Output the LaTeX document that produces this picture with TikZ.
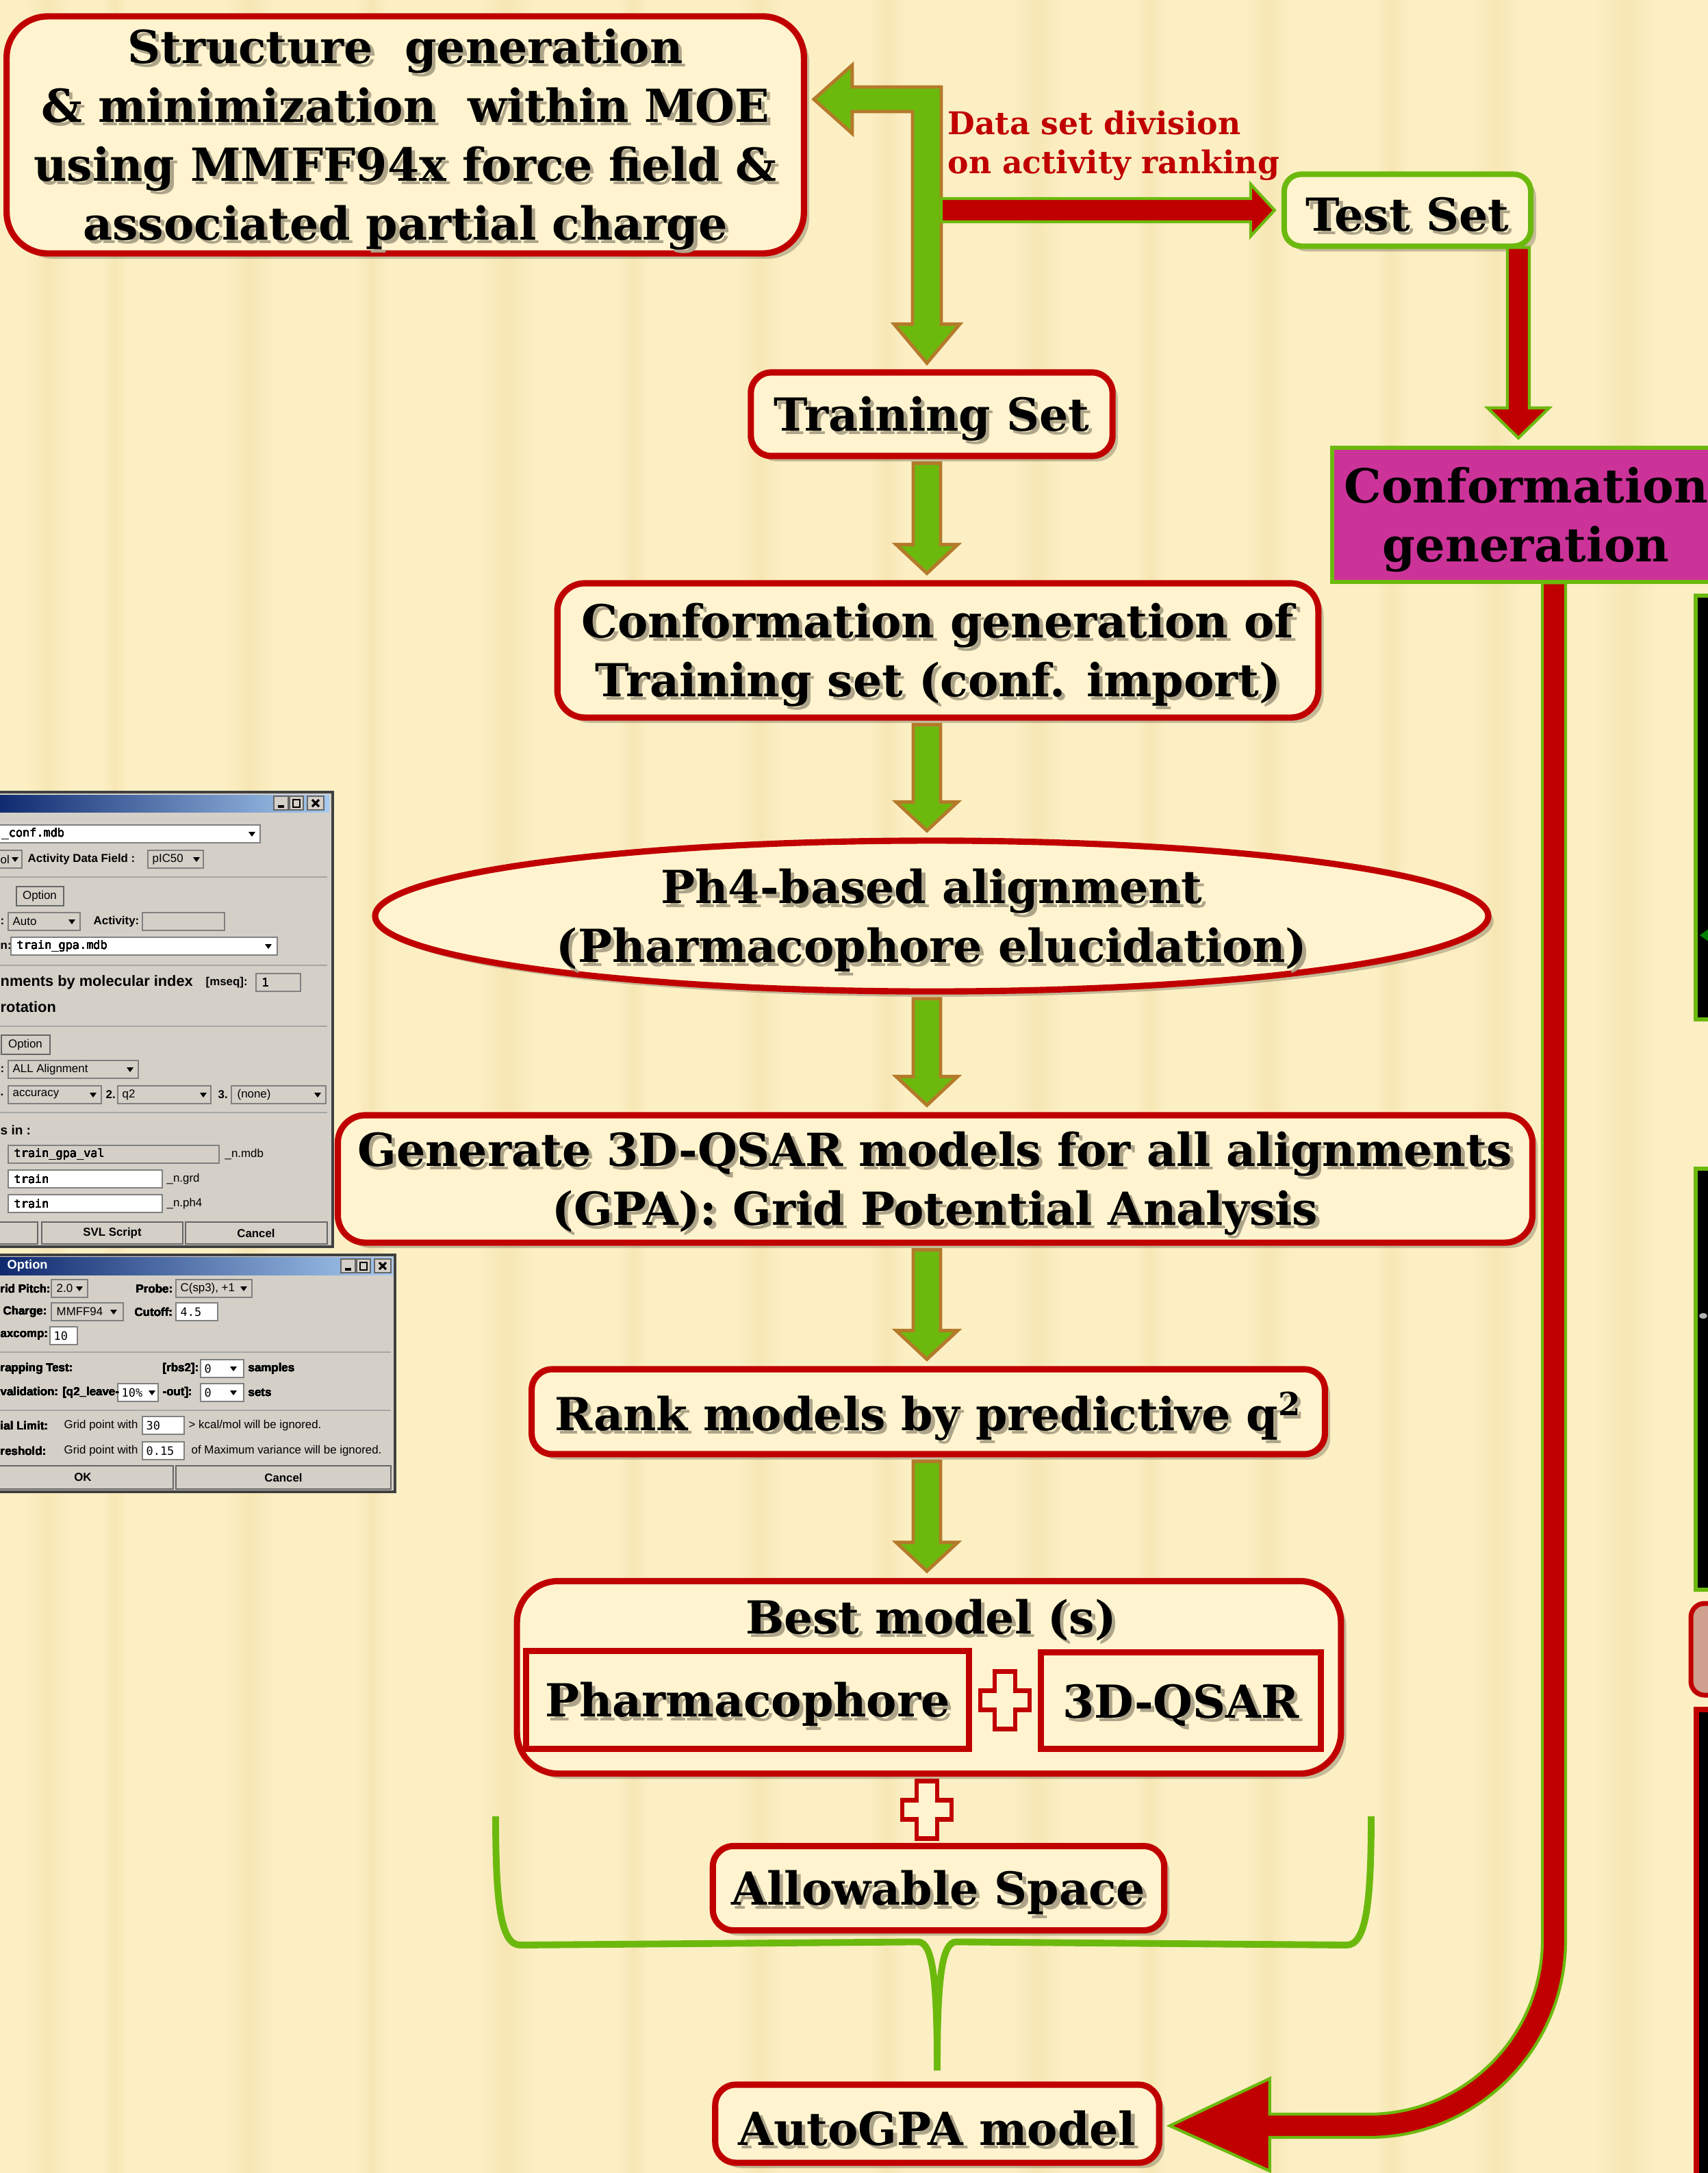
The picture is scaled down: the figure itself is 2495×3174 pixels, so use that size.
\documentclass[tikz,border=0pt]{standalone}
\usepackage{fontspec}
\setmainfont{DejaVu Serif}
\newfontfamily\uisans{Liberation Sans}
\newfontfamily\uimono{DejaVu Sans Mono}
\usetikzlibrary{calc,shapes.geometric,shadows}

\definecolor{bgcream}{HTML}{FCEFC4}
\definecolor{stripe}{HTML}{F0DDA2}
\definecolor{boxfill}{HTML}{FFF4CF}
\definecolor{boxred}{HTML}{C00000}
\definecolor{leaf}{HTML}{6CB90E}
\definecolor{rust}{HTML}{B47A2A}
\definecolor{orchid}{HTML}{CC3399}
\definecolor{txtshade}{HTML}{ADA48A}
\definecolor{uigray}{HTML}{D4D0C8}
\definecolor{uidark}{HTML}{404040}
\definecolor{titledark}{HTML}{0A246A}
\definecolor{titlelight}{HTML}{A6CAF0}
\definecolor{peach}{HTML}{CFA08E}

% text with a soft shadow, set a little low in its box
\newcommand{\sh}[1]{\leavevmode\raisebox{-2.6pt}[\height][\depth]{\rlap{\kern1.5pt\raisebox{-1.5pt}{\textcolor{txtshade}{#1}}}#1}}
\newcommand{\lowr}[1]{\leavevmode\raisebox{-2pt}[\height][\depth]{#1}}

\tikzset{
  stagebox/.style={draw=boxred, line width=2.6pt, fill=boxfill, rounded corners=0.35cm,
    align=center, inner sep=0pt, font=\fontsize{18.9}{24.5}\selectfont\bfseries,
    drop shadow={shadow xshift=2.2pt, shadow yshift=-2.2pt, opacity=0.22, fill=black}},
  plainbox/.style={draw=boxred, line width=2.6pt, inner sep=0pt,
    font=\fontsize{18.9}{24.5}\selectfont\bfseries},
  greenarrow/.style={fill=leaf, draw=rust, line width=1.4pt, line join=miter},
  redarrow/.style={fill=boxred, draw=leaf, line width=1.2pt, line join=miter},
  bracket/.style={draw=leaf, line width=2.8pt},
  plusmark/.style={fill=boxfill, draw=boxred, line width=1.8pt},
  uiwin/.style={fill=uigray, draw=uidark, line width=1pt},
  uifield/.style={draw=gray, line width=0.5pt},
  uibtn/.style={fill=uigray, draw=gray!80!black, line width=0.6pt},
  uisep/.style={draw=gray!70, line width=0.6pt},
  uitext/.style={inner sep=0pt, anchor=west, font=\uisans\fontsize{4.8}{5}\selectfont},
  uibold/.style={uitext, font=\uisans\bfseries\fontsize{4.8}{5}\selectfont},
  uibig/.style={uitext, font=\uisans\bfseries\fontsize{6.2}{6.5}\selectfont},
  uimono/.style={uitext, font=\uimono\fontsize{4.8}{5}\selectfont},
}

% fat green arrow down the spine
\newcommand{\greendown}[2]{%
  \filldraw[greenarrow] ($(spine |- #1.south)+(-20,6)$) -- ++(40,0)
    -- ($(spine |- #2.north)+(20,-52)$) -- ++(25,0)
    -- ($(spine |- #2.north)+(0,-10)$)
    -- ($(spine |- #2.north)+(-45,-52)$) -- ++(25,0) -- cycle;}
% red plus sign
\newcommand{\redplus}[1]{%
  \filldraw[plusmark] ($(#1)+(-15,-42)$) -- ++(30,0) -- ++(0,28) -- ++(21,0) -- ++(0,28)
    -- ++(-21,0) -- ++(0,28) -- ++(-30,0) -- ++(0,-28) -- ++(-21,0) -- ++(0,-28) -- ++(21,0) -- cycle;}
% dropdown triangle
\newcommand{\dd}[2]{\fill (#1-5,#2-3) -- (#1+5,#2-3) -- (#1,#2+4) -- cycle;}
% window buttons _ [] X
\newcommand{\winbtns}[2]{%
  \foreach \bx/\bw in {0/21,23/20,49/24}
    \draw[uibtn] (#1+\bx,#2) rectangle ++(\bw,20);
  \draw[line width=1.2pt] (#1+6,#2+15) -- ++(9,0);
  \draw[line width=0.8pt] (#1+28,#2+5) rectangle ++(10,11);
  \draw[line width=0.9pt] (#1+56,#2+5) -- ++(10,10) (#1+56,#2+15) -- ++(10,-10);}

\begin{document}
\begin{tikzpicture}[x=0.01cm, y=-0.01cm]
\useasboundingbox (0,0) rectangle (2495,3174);
\fill[bgcream] (0,0) rectangle (2495,3174);
% faint vertical stripes
\foreach \sx/\sw in {40/60, 150/35, 330/70, 520/45, 700/80, 905/40, 1080/60, 1270/50, 1480/70, 1660/40, 1820/65, 2010/45, 2150/70, 2330/90}
  \shade[left color=bgcream, right color=bgcream, middle color=stripe, opacity=0.45] (\sx,0) rectangle ++(\sw,3174);

% ---- cut-off panels on the right edge
\draw[line width=1.7pt, draw=leaf, fill=black] (2477,870) rectangle (2530,1489);
\fill[green!50!black] (2483,1366) -- (2497,1356) -- (2497,1376) -- cycle;
\draw[line width=1.7pt, draw=leaf, fill=black] (2477,1707) rectangle (2530,2322);
\fill[gray!60] (2488,1922) ellipse (6 and 4);
\draw[line width=2pt, draw=boxred, fill=peach, rounded corners=0.2cm] (2470,2342) rectangle (2550,2476);
\draw[line width=2.3pt, draw=boxred, fill=black] (2478,2497) rectangle (2530,3200);

% ---- left dialog 1
\draw[uiwin] (-20,1157) rectangle (486,1821);
\shade[left color=titledark, right color=titlelight] (-20,1161) rectangle (481,1186);
\winbtns{400}{1163}
\foreach \ya in {1281,1410,1499,1625}
  \draw[uisep] (-20,\ya) -- (478,\ya);
\foreach \xa/\ya/\xb/\yb in {-20/1205/380/1231, 16/1369/405/1395, 12/1709/237/1735, 12/1745/237/1771}
  \draw[uifield, fill=white] (\xa,\ya) rectangle (\xb,\yb);
\foreach \xa/\ya/\xb/\yb in {-20/1242/32/1268, 216/1242/297/1268, 12/1333/117/1359, 208/1333/328/1359, 374/1422/439/1448, 12/1549/202/1575, 12/1586/148/1612, 172/1586/308/1612, 338/1586/476/1612, 12/1673/320/1699}
  \draw[uifield, fill=uigray] (\xa,\ya) rectangle (\xb,\yb);
\foreach \xa/\ya/\xb/\yb in {24/1295/93/1323, 2/1512/73/1540, -20/1785/55/1817, 61/1785/267/1817, 271/1785/478/1817}
  \draw[uibtn] (\xa,\ya) rectangle (\xb,\yb);
\foreach \xd/\yd in {368/1218, 22/1255, 287/1255, 105/1346, 392/1382, 190/1562, 136/1599, 297/1599, 464/1599}
  \dd{\xd}{\yd}
\foreach \tx/\ty/\lbl [count=\i] in {2/1218/{\_conf.mdb}, 24/1382/{train\_gpa.mdb}, 20/1686/{train\_gpa\_val}, 20/1722/train, 20/1758/train, 382/1435/1}
  \node[uimono] (pam\i) at (\tx,\ty) {\lbl};
\foreach \tx/\ty/\lbl [count=\i] in {0/1255/ol, 222/1255/pIC50, 18/1346/Auto, 18/1562/{ALL Alignment}, 18/1599/accuracy, 178/1599/q2, 346/1599/{(none)}, 328/1686/{\_n.mdb}, 243/1722/{\_n.grd}, 243/1758/{\_n.ph4}}
  \node[uitext] (par\i) at (\tx,\ty) {\lbl};
\foreach \tx/\ty/\lbl [count=\i] in {40/1255/{Activity Data Field :}, 0/1346/:, 136/1346/{Activity:}, 0/1382/n:, 300/1435/{[mseq]:}, 0/1562/:, 0/1599/., 154/1599/2., 318/1599/3.}
  \node[uibold] (pab\i) at (\tx,\ty) {\lbl};
\node[uibig] (pabig1) at (0,1435) {nments by molecular index};
\node[uibig] (pabig2) at (0,1471) {rotation};
\node[uibold, font=\uisans\bfseries\fontsize{5.4}{6}\selectfont] (pabig3) at (0,1651) {s in :};
\node[uitext, anchor=center] (paopt1) at (58,1309) {Option};
\node[uitext, anchor=center] (paopt2) at (37,1526) {Option};
\node[uibold, anchor=center] (pasvl) at (164,1801) {SVL Script};
\node[uibold, anchor=center] (pacan) at (374,1801) {Cancel};

% ---- left dialog 2
\draw[uiwin] (-20,1833) rectangle (577,2179);
\shade[left color=titledark, right color=titlelight] (-20,1836) rectangle (574,1862);
\node[uibold, text=white, font=\uisans\bfseries\fontsize{5.2}{6}\selectfont] (pbtitle) at (10,1849) {Option};
\winbtns{498}{1839}
\foreach \ya in {1975,2060}
  \draw[uisep] (-20,\ya) -- (571,\ya);
\foreach \xa/\ya/\xb/\yb in {75/1869/128/1895, 257/1869/368/1895, 75/1903/180/1929}
  \draw[uifield, fill=uigray] (\xa,\ya) rectangle (\xb,\yb);
\foreach \xa/\ya/\xb/\yb in {257/1903/318/1929, 73/1938/113/1964, 293/1986/356/2012, 172/2021/231/2047, 293/2021/356/2047, 208/2069/269/2095, 208/2106/269/2132}
  \draw[uifield, fill=white] (\xa,\ya) rectangle (\xb,\yb);
\foreach \xa/\ya/\xb/\yb in {-20/2141/253/2175, 257/2141/571/2175}
  \draw[uibtn] (\xa,\ya) rectangle (\xb,\yb);
\foreach \xd/\yd in {116/1882, 356/1882, 166/1916, 341/1999, 222/2034, 341/2034}
  \dd{\xd}{\yd}
\foreach \tx/\ty/\lbl [count=\i] in {0/1882/{rid Pitch:}, 198/1882/{Probe:}, 4/1916/{Charge:}, 196/1916/{Cutoff:}, 0/1951/{axcomp:}, 0/1999/{rapping Test:}, 237/1999/{[rbs2]:}, 362/1999/samples, 0/2034/{validation: [q2\_leave-}, 237/2034/{-out]:}, 362/2034/sets, 0/2082/{ial Limit:}, 0/2119/{reshold:}}
  \node[uibold] (pbb\i) at (\tx,\ty) {\lbl};
\foreach \tx/\ty/\lbl [count=\i] in {82/1882/2.0, 263/1882/{C(sp3), +1}, 82/1916/MMFF94, 93/2082/{Grid point with}, 93/2119/{Grid point with}, 275/2082/{> kcal/mol will be ignored.}, 279/2119/{of Maximum variance will be ignored.}}
  \node[uitext] (pbr\i) at (\tx,\ty) {\lbl};
\foreach \tx/\ty/\lbl [count=\i] in {263/1916/4.5, 78/1951/10, 298/1999/0, 177/2034/{10\%}, 298/2034/0, 213/2082/30, 213/2119/0.15}
  \node[uimono] (pbm\i) at (\tx,\ty) {\lbl};
\node[uibold, anchor=center] (pbok) at (121,2158) {OK};
\node[uibold, anchor=center] (pbcan) at (414,2158) {Cancel};

% ---- flow chart
\coordinate (spine) at (1354,0);
\node[stagebox, minimum width=11.64cm, minimum height=3.46cm, rounded corners=0.6cm] (struct) at (592,197)
  {\sh{Structure\ \ generation}\\ \sh{\& minimization\ \ within MOE}\\ \sh{using MMFF94x force field \&}\\ \sh{associated partial charge}};
\node[stagebox, draw=leaf, line width=2.3pt, minimum width=3.6cm, minimum height=1.05cm, rounded corners=0.25cm] (test) at (2056,307) {\sh{Test Set}};
\node[stagebox, minimum width=5.28cm, minimum height=1.22cm, rounded corners=0.3cm] (train) at (1361,605) {\sh{Training Set}};
\node[plainbox, draw=leaf, line width=1.8pt, fill=orchid, minimum width=5.66cm, minimum height=1.96cm, align=center, anchor=west,
  font=\fontsize{19.5}{24.5}\selectfont\bfseries] (confgen) at (1943,752) {\lowr{Conformation}\\ \lowr{generation}};
\node[stagebox, minimum width=11.11cm, minimum height=1.96cm, rounded corners=0.4cm] (conftrain) at (1370,950)
  {\sh{Conformation generation of}\\ \sh{Training set (conf. import)}};
\node[stagebox, ellipse, minimum width=16.25cm, minimum height=2.14cm] (ph4) at (1361,1338)
  {\sh{Ph4-based alignment}\\ \sh{(Pharmacophore elucidation)}};
\node[stagebox, minimum width=17.44cm, minimum height=1.86cm, rounded corners=0.4cm] (gpa) at (1366,1722)
  {\sh{Generate 3D-QSAR models for all alignments}\\ \sh{(GPA): Grid Potential Analysis}};
\node[stagebox, minimum width=11.58cm, minimum height=1.24cm, rounded corners=0.3cm] (rank) at (1356,2062)
  {\sh{Rank models by predictive q\textsuperscript{2}}};
\node[stagebox, minimum width=12.03cm, minimum height=2.81cm, rounded corners=0.6cm] (best) at (1357,2450) {};
\node[plainbox, draw=none] (besttitle) at (1360,2360) {\sh{Best model (s)}};
\node[plainbox, minimum width=6.47cm, minimum height=1.43cm] (pharm) at (1092,2483) {\sh{Pharmacophore}};
\node[plainbox, minimum width=4.08cm, minimum height=1.41cm] (qsar) at (1725,2484) {\sh{3D-QSAR}};
\node[stagebox, minimum width=6.59cm, minimum height=1.23cm, rounded corners=0.3cm] (allow) at (1371,2758) {\sh{Allowable Space}};
\node[stagebox, minimum width=6.48cm, minimum height=1.14cm, rounded corners=0.3cm] (auto) at (1369,3102) {\sh{AutoGPA model}};
\node[anchor=west, align=left, inner sep=0pt, text=boxred, font=\fontsize{13}{16.2}\selectfont\bfseries] (divlbl) at (1384,213)
  {Data set division\\on activity ranking};

% elbow arrow: back to the structures and down to the training set
\coordinate (split) at (1354,145);
\filldraw[greenarrow] ($(struct.east |- split)+(10,0)$) coordinate (t1) -- ++(56,-50) -- ++(0,32)
  -- ($(split)+(21,-18)$) -- ($(split |- train.north)+(21,-66)$) -- ++(27,0)
  -- ($(split |- train.north)+(0,-9)$) -- ($(split |- train.north)+(-48,-66)$) -- ++(27,0)
  -- ($(split)+(-21,18)$) -- ($(t1)+(56,18)$) -- ++(0,32) -- cycle;
% split off the test set
\coordinate (fork) at (1354,307);
\filldraw[redarrow] ($(fork)+(21,-17)$) -- ($(test.west)+(-45,-17)$) -- ++(0,-21)
  -- ($(test.west)+(-10,0)$) -- ($(test.west)+(-45,38)$) -- ++(0,-21) -- ($(fork)+(21,17)$) -- cycle;
% test set to its conformations
\coordinate (tdrop) at (2218,0);
\filldraw[redarrow] ($(tdrop |- test.south)+(-16,-2)$) -- ++(32,0) -- ($(tdrop |- confgen.north)+(16,-55)$) -- ++(29,0)
  -- ($(tdrop |- confgen.north)+(0,-11)$) -- ($(tdrop |- confgen.north)+(-45,-55)$) -- ++(29,0) -- cycle;
% conformations of the test set into the final model
\coordinate (rdrop) at (2270,0);
\coordinate (bend) at (rdrop |- auto.east);
\filldraw[redarrow] ($(rdrop |- confgen.south)+(17,-2)$) -- ($(bend)+(17,-268)$)
  .. controls ($(bend)+(17,-109)$) and ($(bend)+(-112,20)$) .. ($(bend)+(-271,20)$)
  -- ($(auto.east)+(157,20)$) -- ($(auto.east)+(157,69)$) -- ($(auto.east)+(11,3)$)
  -- ($(auto.east)+(157,-66)$) -- ($(auto.east)+(157,-14)$) -- ($(bend)+(-271,-14)$)
  .. controls ($(bend)+(-131,-14)$) and ($(bend)+(-17,-128)$) .. ($(bend)+(-17,-268)$)
  -- ($(rdrop |- confgen.south)+(-17,-2)$) -- cycle;

\greendown{train}{conftrain}
\greendown{conftrain}{ph4}
\greendown{ph4}{gpa}
\greendown{gpa}{rank}
\greendown{rank}{best}

\redplus{$(pharm.east)!0.5!(qsar.west)$}
\coordinate (plus2) at ($(spine |- best.south)!0.5!(spine |- allow.north)$);
\redplus{plus2}

% brace gathering the best model and the allowable space
\coordinate (braceL) at (724,2653);
\coordinate (braceR) at (2003,2653);
\coordinate (stem) at ($(auto.north)+(0,-16)$);
\draw[bracket] (braceL) .. controls ($(braceL)+(0,130)$) and ($(braceL)+(8,188)$) .. ($(braceL)+(36,188)$)
  -- ($(stem)+(-28,-188)$) .. controls ($(stem)+(-6,-188)$) and ($(stem)+(0,-130)$) .. (stem)
  .. controls ($(stem)+(0,-130)$) and ($(stem)+(6,-188)$) .. ($(stem)+(28,-188)$)
  -- ($(braceR)+(-36,188)$) .. controls ($(braceR)+(-8,188)$) and ($(braceR)+(0,130)$) .. (braceR);
\end{tikzpicture}
\end{document}
